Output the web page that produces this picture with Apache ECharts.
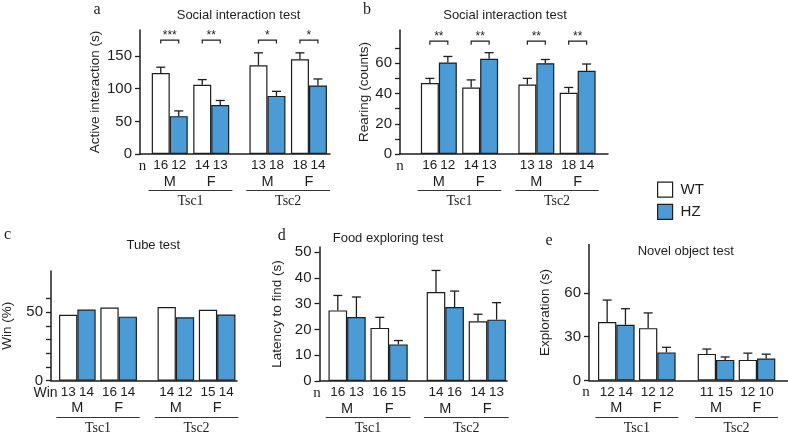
<!DOCTYPE html>
<html><head><meta charset="utf-8">
<script src="https://cdn.jsdelivr.net/npm/echarts@6/dist/echarts.min.js"></script>
<style>html,body{margin:0;padding:0;background:#fff}#c{width:788px;height:437px}</style>
</head><body><div id="c"></div>
<script>
// ---------- data ----------
const groups = ['Tsc1', 'Tsc2'];
const sexes = ['M', 'F'];
const legendNames = ['WT', 'HZ'];

// a: Social interaction test – Active interaction (s)
const aWT = [124, 106, 136, 145];
const aWTerr = [9, 8, 19, 10];
const aHZ = [58, 75, 89, 105];
const aHZerr = [8, 7, 7, 10];
const aWTn = [16, 14, 13, 18];
const aHZn = [12, 13, 18, 14];
const aSig = ['***', '**', '*', '*'];
const aTicks = [0, 50, 100, 150];
const aLabels = [0, 50, 100, 150];

// b: Social interaction test – Rearing (counts)
const bWT = [47, 44, 46, 40.5];
const bWTerr = [3, 5, 4, 3.5];
const bHZ = [60.5, 63, 60, 55];
const bHZerr = [4, 4, 2.5, 4.5];
const bWTn = [16, 14, 13, 18];
const bHZn = [12, 13, 18, 14];
const bSig = ['**', '**', '**', '**'];
const bTicks = [0, 10, 20, 30, 40, 50, 60, 70];
const bLabels = [0, 20, 40, 60];

// c: Tube test – Win (%)
const cWT = [48.1, 53.3, 53.8, 51.7];
const cHZ = [51.9, 46.7, 46.2, 48.3];
const cWTn = [13, 16, 14, 15];
const cHZn = [14, 14, 12, 14];
const cTicks = [0, 10, 20, 30, 40, 50, 60];
const cLabels = [0, 50];

// d: Food exploring test – Latency to find (s)
const dWT = [27.4, 20.6, 34.5, 23.2];
const dWTerr = [5.8, 4.1, 8.4, 2.7];
const dHZ = [24.8, 14.2, 28.7, 23.8];
const dHZerr = [7.8, 1.5, 6.2, 6.6];
const dWTn = [16, 16, 14, 14];
const dHZn = [13, 15, 16, 13];
const dTicks = [0, 10, 20, 30, 40, 50];
const dLabels = [0, 10, 20, 30, 40, 50];

// e: Novel object test – Exploration (s)
const eWT = [40, 35.8, 18.2, 14.1];
const eWTerr = [15, 10.4, 3.3, 4.6];
const eHZ = [38.1, 19.2, 14.1, 15];
const eHZerr = [11, 3.5, 2, 3];
const eWTn = [12, 12, 11, 12];
const eHZn = [14, 12, 15, 10];
const eTicks = [0, 30, 60];
const eLabels = [0, 30, 60];

// ---------- styles / layout ----------
const FONT = '"Liberation Sans", Arial, sans-serif';
const SERIF = '"Liberation Serif", "DejaVu Serif", serif';
const INK = '#1e1e1e';
const BLUE = '#4b9bd6';

const panels = [
  { letter: 'a', title: 'Social interaction test', yName: 'Active interaction (s)', nText: 'n',
    wt: aWT, wtErr: aWTerr, hz: aHZ, hzErr: aHZerr, wtN: aWTn, hzN: aHZn, sig: aSig, ticks: aTicks, labels: aLabels,
    L: { axisX: 140, top: 30, y0: 154, end: 330, max: 190, centers: [190.5, 288.2], catW: 41.5, gap: 0.133,
         nameGap: 38, bracket: 174.5, nX: 142.5, titleX: 238.5, titleY: 15, letterX: 97, letterY: 10 } },
  { letter: 'b', title: 'Social interaction test', yName: 'Rearing (counts)', nText: 'n',
    wt: bWT, wtErr: bWTerr, hz: bHZ, hzErr: bHZerr, wtN: bWTn, hzN: bHZn, sig: bSig, ticks: bTicks, labels: bLabels,
    L: { axisX: 400, top: 30, y0: 154, end: 608, max: 82, centers: [459.5, 557], catW: 41.3, gap: 0.13,
         nameGap: 26, bracket: 74.6, nX: 400, titleX: 505, titleY: 15, letterX: 367, letterY: 10 } },
  { letter: 'c', title: 'Tube test', yName: 'Win (%)', nText: 'Win',
    wt: cWT, wtErr: null, hz: cHZ, hzErr: null, wtN: cWTn, hzN: cHZn, sig: null, ticks: cTicks, labels: cLabels,
    L: { axisX: 51, top: 271, y0: 380.7, end: 237, max: 80, centers: [98, 196.5], catW: 41.3, gap: 0.114,
         nameGap: 37, bracket: 0, nX: 45.5, titleX: 153.3, titleY: 245, letterX: 7.5, letterY: 234.5 } },
  { letter: 'd', title: 'Food exploring test', yName: 'Latency to find (s)', nText: 'n',
    wt: dWT, wtErr: dWTerr, hz: dHZ, hzErr: dHZerr, wtN: dWTn, hzN: dHZn, sig: null, ticks: dTicks, labels: dLabels,
    L: { axisX: 319.5, top: 247, y0: 381, end: 507, max: 52, centers: [368.1, 466.3], catW: 42, gap: 0.114,
         nameGap: 35, bracket: 0, nX: 317, titleX: 388, titleY: 238.3, letterX: 281.7, letterY: 235.7 } },
  { letter: 'e', title: 'Novel object test', yName: 'Exploration (s)', nText: 'n',
    wt: eWT, wtErr: eWTerr, hz: eHZ, hzErr: eHZerr, wtN: eWTn, hzN: eHZn, sig: null, ticks: eTicks, labels: eLabels,
    L: { axisX: 589, top: 244.5, y0: 380.5, end: 788, max: 93, centers: [636.8, 736.5], catW: 41, gap: 0.107,
         nameGap: 37, bracket: 0, nX: 586, titleX: 685.7, titleY: 251, letterX: 549, letterY: 240.7 } }
];

const option = {
  animation: false,
  backgroundColor: '#fff',
  grid: [], xAxis: [], yAxis: [], series: [], graphic: [],
  legend: {
    orient: 'vertical', left: 657, top: 181.5, padding: 0, itemWidth: 15, itemHeight: 15, itemGap: 6,
    icon: 'rect', selectedMode: false,
    data: [
      { name: legendNames[0], itemStyle: { color: '#fff', borderColor: INK, borderWidth: 1.2 } },
      { name: legendNames[1], itemStyle: { color: BLUE, borderColor: INK, borderWidth: 1.2 } }
    ],
    textStyle: { fontSize: 15, fontFamily: FONT, color: INK, padding: [0, 0, 0, 3] }
  }
};

function txt(x, y, text, size, family, align) {
  return { type: 'text', x: x, y: y, silent: true,
    style: { text: text, fontSize: size, fontFamily: family, fill: INK, align: align || 'center', verticalAlign: 'middle' } };
}

function errSeries(xi, yi, vals, errs, side, gap) {
  return {
    type: 'custom', xAxisIndex: xi, yAxisIndex: yi, silent: true, z: 4,
    data: vals.map((v, i) => [i, v, v + errs[i]]),
    renderItem: function (params, api) {
      const band = api.size([1, 0])[0];
      const bw = band * (1 - gap) / 2;
      const cx = api.coord([api.value(0), 0])[0] + side * bw / 2;
      const yTop = api.coord([api.value(0), api.value(1)])[1];
      const yErr = api.coord([api.value(0), api.value(2)])[1];
      const st = { stroke: INK, lineWidth: 1.3 };
      return { type: 'group', children: [
        { type: 'line', shape: { x1: cx, y1: yTop, x2: cx, y2: yErr }, style: st },
        { type: 'line', shape: { x1: cx - 4.5, y1: yErr, x2: cx + 4.5, y2: yErr }, style: st }
      ] };
    }
  };
}

function sigSeries(xi, yi, marks, level, gap) {
  return {
    type: 'custom', xAxisIndex: xi, yAxisIndex: yi, silent: true, z: 4,
    data: marks.map((m, i) => [i, level]),
    renderItem: function (params, api) {
      const band = api.size([1, 0])[0];
      const bw = band * (1 - gap) / 2;
      const p = api.coord([api.value(0), api.value(1)]);
      const x1 = p[0] - bw / 2, x2 = p[0] + bw / 2, y = p[1];
      return { type: 'group', children: [
        { type: 'polyline', shape: { points: [[x1, y + 3.5], [x1, y], [x2, y], [x2, y + 3.5]] },
          style: { stroke: INK, lineWidth: 1.2, fill: null } },
        { type: 'text', x: p[0], y: y + 1.5,
          style: { text: marks[params.dataIndex], fontSize: 12, fontFamily: FONT, fill: INK, align: 'center', verticalAlign: 'bottom' } }
      ] };
    }
  };
}

panels.forEach(p => {
  const L = p.L;
  const h = L.y0 - L.top;
  const gi = option.grid.length;
  option.grid.push({ left: L.axisX, top: L.top, width: L.end - L.axisX, height: h, outerBoundsMode: 'none' });
  option.xAxis.push({ gridIndex: gi, type: 'value', min: 0, max: 1,
    axisLine: { show: true, onZero: false, lineStyle: { color: INK, width: 1.5 } },
    axisTick: { show: false }, axisLabel: { show: false }, splitLine: { show: false } });
  option.yAxis.push({ gridIndex: gi, type: 'value', min: 0, max: L.max,
    name: p.yName, nameLocation: 'middle', nameGap: L.nameGap,
    nameTextStyle: { fontSize: 13.5, fontFamily: FONT, color: INK },
    axisLine: { show: true, onZero: false, lineStyle: { color: INK, width: 1.5 } },
    axisTick: { show: true, length: 5, customValues: p.ticks, lineStyle: { color: INK, width: 1.3 } },
    axisLabel: { show: true, customValues: p.labels, fontSize: 15, fontFamily: FONT, color: INK, margin: 8 },
    splitLine: { show: false } });

  groups.forEach((g, k) => {
    const sl = a => a.slice(k * 2, k * 2 + 2);
    const gj = option.grid.length;
    option.grid.push({ left: L.centers[k] - L.catW, width: 2 * L.catW, top: L.top, height: h, outerBoundsMode: 'none' });
    const xi = option.xAxis.length;
    option.xAxis.push({ gridIndex: gj, type: 'category', data: sexes,
      axisLine: { show: false }, axisTick: { show: false },
      axisLabel: { margin: 20, fontSize: 14.5, fontFamily: FONT, color: INK } });
    option.xAxis.push({ gridIndex: gj, type: 'category', data: sexes, position: 'bottom', offset: 36.5,
      axisLine: { show: true, lineStyle: { color: '#333', width: 1 } }, axisTick: { show: false }, axisLabel: { show: false },
      name: g, nameLocation: 'middle', nameGap: 4,
      nameTextStyle: { fontFamily: SERIF, fontSize: 14, color: INK } });
    const yi = option.yAxis.length;
    option.yAxis.push({ gridIndex: gj, type: 'value', min: 0, max: L.max, show: false });

    const gapPct = (L.gap * 100).toFixed(1) + '%';
    const mk = (name, vals, ns, color) => ({
      type: 'bar', name: name, xAxisIndex: xi, yAxisIndex: yi, data: sl(vals),
      barGap: '0%', barCategoryGap: gapPct, z: 3,
      itemStyle: { color: color, borderColor: INK, borderWidth: 1.2 },
      label: { show: true, position: 'bottom', distance: 4.5, fontSize: 13.5, fontFamily: FONT, color: INK,
        formatter: q => String(sl(ns)[q.dataIndex]) }
    });
    option.series.push(mk(legendNames[0], p.wt, p.wtN, '#fff'));
    option.series.push(mk(legendNames[1], p.hz, p.hzN, BLUE));
    if (p.wtErr) option.series.push(errSeries(xi, yi, sl(p.wt), sl(p.wtErr), -1, L.gap));
    if (p.hzErr) option.series.push(errSeries(xi, yi, sl(p.hz), sl(p.hzErr), 1, L.gap));
    if (p.sig) option.series.push(sigSeries(xi, yi, sl(p.sig), L.bracket, L.gap));
  });

  option.graphic.push(txt(L.letterX, L.letterY, p.letter, 16, SERIF));
  option.graphic.push(txt(L.titleX, L.titleY, p.title, 13, FONT));
  option.graphic.push(p.nText === 'n'
    ? txt(L.nX, L.y0 + 12, p.nText, 15, SERIF)
    : txt(L.nX, L.y0 + 12, p.nText, 14, FONT));
});

const chart = echarts.init(document.getElementById('c'), null, { renderer: 'canvas' });
chart.setOption(option);
</script></body></html>
